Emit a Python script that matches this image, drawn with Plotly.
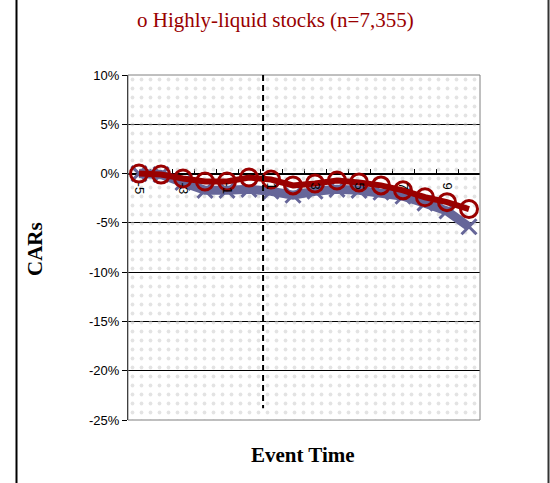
import plotly.graph_objects as go

# Event window and cumulative abnormal returns (in percent)
event_time = [-5, -4, -3, -2, -1, 0, 1, 2, 3, 4, 5, 6, 7, 8, 9, 10]
car_liquid = [0.0, -0.1, -0.5, -0.8, -0.8, -0.4, -0.6, -1.2, -1.0, -0.7, -0.9, -1.2, -1.7, -2.4, -2.9, -3.6]
car_other = [0.0, -0.1, -0.9, -1.7, -1.7, -1.6, -1.8, -2.2, -1.8, -1.6, -1.7, -1.9, -2.3, -3.0, -3.8, -5.4]
label_times = [-5, -3, -1, 1, 3, 5, 7, 9]
y_ticks = [-25, -20, -15, -10, -5, 0, 5, 10]
event_marker_x = 0.64

X_MIN, X_MAX = event_time[0] - 0.5, event_time[-1] + 0.5
Y_MIN, Y_MAX = -25, 10

W, H = 550, 483
ML, MR, MT, MB = 128, 70, 75, 63
PW, PH = W - ML - MR, H - MT - MB


def px_x(p):
    return (p - ML) / PW


def px_y(p):
    return (H - MB - p) / PH


SERIF = "Liberation Serif"
SANS = "Liberation Sans"
DARK_RED = "#990000"
SLATE = "#666699"

fig = go.Figure()

# dotted plot-area texture
fig.add_trace(go.Scatter(
    x=[X_MIN, X_MAX, X_MAX, X_MIN, X_MIN],
    y=[Y_MIN, Y_MIN, Y_MAX, Y_MAX, Y_MIN],
    mode="none", fill="toself", fillcolor="rgba(0,0,0,0)",
    fillpattern=dict(shape=".", fgcolor="#c8c8c8", bgcolor="rgba(0,0,0,0)",
                     size=9, solidity=0.14),
    hoverinfo="skip", showlegend=False,
))

fig.add_trace(go.Scatter(
    x=event_time, y=car_other, mode="lines+markers",
    line=dict(color=SLATE, width=9),
    marker=dict(symbol="x-thin", size=15, line=dict(color=SLATE, width=3)),
    showlegend=False,
))

fig.add_trace(go.Scatter(
    x=event_time, y=car_liquid, mode="lines+markers",
    line=dict(color=DARK_RED, width=6),
    marker=dict(symbol="circle-open", size=17, color=DARK_RED,
                line=dict(color=DARK_RED, width=3)),
    showlegend=False,
))

axis_pos = (0 - Y_MIN) / (Y_MAX - Y_MIN)
boundaries = [t - 0.5 for t in event_time] + [event_time[-1] + 0.5]

fig.update_layout(
    width=W, height=H,
    margin=dict(l=ML, r=MR, t=MT, b=MB),
    paper_bgcolor="white", plot_bgcolor="white",
    xaxis=dict(
        range=[X_MIN, X_MAX], anchor="free", position=axis_pos,
        showgrid=False, zeroline=False,
        showline=True, linecolor="black", linewidth=1,
        tickmode="array", tickvals=boundaries, ticktext=["" for _ in boundaries],
        ticks="inside", ticklen=5, tickcolor="black",
        layer="below traces",
    ),
    xaxis2=dict(
        range=[X_MIN, X_MAX], overlaying="x", anchor="free", position=axis_pos,
        side="bottom", showgrid=False, zeroline=False, showline=False,
        tickmode="array", tickvals=label_times, ticktext=[str(t) for t in label_times],
        ticks="", tickangle=90, ticklabelstandoff=8,
        tickfont=dict(family=SANS, size=13, color="black"),
        layer="above traces",
    ),
    yaxis=dict(
        range=[Y_MIN, Y_MAX], tickmode="array", tickvals=y_ticks,
        ticktext=[f"{v}%" for v in y_ticks],
        showgrid=True, gridcolor="black", gridwidth=1,
        zeroline=False, showline=True, linecolor="black", linewidth=1,
        ticks="outside", ticklen=5, tickcolor="black",
        tickfont=dict(family=SANS, size=13, color="black"),
    ),
    shapes=[
        # plot-area border
        dict(type="rect", xref="paper", yref="paper", x0=0, x1=1, y0=0, y1=1,
             line=dict(color="#808080", width=1), layer="above"),
        # event-date marker
        dict(type="line", xref="x", yref="y", x0=event_marker_x, x1=event_marker_x,
             y0=Y_MAX, y1=Y_MIN + 1.2,
             line=dict(color="black", width=2, dash="6px,4px"), layer="above"),
        # chart frame
        dict(type="line", xref="paper", yref="paper", x0=px_x(16.5), x1=px_x(16.5),
             y0=px_y(H), y1=px_y(0), line=dict(color="black", width=2)),
        dict(type="line", xref="paper", yref="paper", x0=px_x(548.5), x1=px_x(548.5),
             y0=px_y(H), y1=px_y(0), line=dict(color="#333333", width=2)),
    ],
    annotations=[
        dict(text="o Highly-liquid stocks (n=7,355)", xref="paper", yref="paper",
             x=px_x(275), y=px_y(20), xanchor="center", yanchor="middle",
             showarrow=False,
             font=dict(family=SERIF, size=21, color=DARK_RED)),
        dict(text="<b>CARs</b>", xref="paper", yref="paper",
             x=px_x(35), y=px_y(249), xanchor="center", yanchor="middle",
             showarrow=False, textangle=-90,
             font=dict(family=SERIF, size=21, color="black")),
        dict(text="<b>Event Time</b>", xref="paper", yref="paper",
             x=px_x(303), y=px_y(455), xanchor="center", yanchor="middle",
             showarrow=False,
             font=dict(family=SERIF, size=21, color="black")),
    ],
)

# keep the label axis attached to a (hidden) trace so it renders
fig.add_trace(go.Scatter(x=[event_time[0]], y=[None], xaxis="x2", mode="markers",
                         showlegend=False, hoverinfo="skip"))

fig.write_html("out.html")
